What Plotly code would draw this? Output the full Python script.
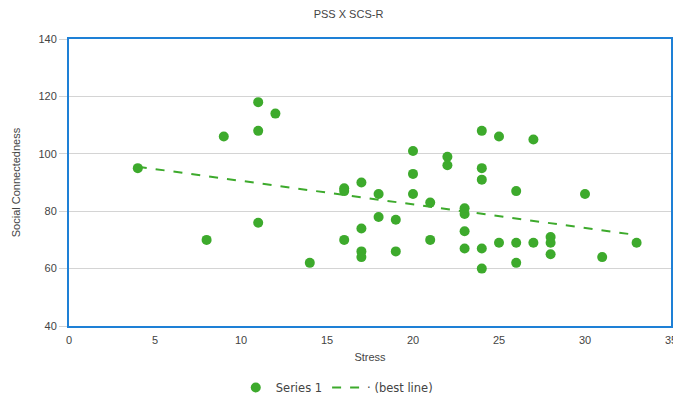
import plotly.graph_objects as go

stress = [4, 8, 9, 11, 11, 11, 12, 14, 16, 16, 16, 17, 17, 17, 17, 18, 18, 19, 19,
          20, 20, 20, 21, 21, 22, 22, 23, 23, 23, 23, 24, 24, 24, 24, 24, 25, 25,
          26, 26, 26, 27, 27, 28, 28, 28, 30, 31, 33]
social = [95, 70, 106, 118, 108, 76, 114, 62, 88, 87, 70, 90, 74, 66, 64, 86, 78, 77, 66,
          101, 93, 86, 83, 70, 99, 96, 81, 79, 73, 67, 108, 95, 91, 67, 60, 106, 69,
          87, 69, 62, 105, 69, 71, 69, 65, 86, 64, 69]

best_x = [4, 33]
best_y = [95.5, 71.7]

x_ticks = [0, 5, 10, 15, 20, 25, 30, 35]
y_ticks = [40, 60, 80, 100, 120, 140]

green = "#3DAA2C"
blue = "#1E80D6"

fig = go.Figure()
fig.add_trace(go.Scatter(x=stress, y=social, mode="markers", name="Series 1",
                         marker=dict(color=green, size=10)))
fig.add_trace(go.Scatter(x=best_x, y=best_y, mode="lines", name="· (best line)",
                         line=dict(color=green, width=2, dash="dash")))

fig.update_layout(
    width=681, height=401,
    margin=dict(l=61, r=18, t=31, b=83, autoexpand=False),
    paper_bgcolor="white", plot_bgcolor="white",
    font=dict(family="Liberation Sans, Arial, sans-serif", size=11, color="#444"),
    title=dict(text="PSS X SCS-R", x=0.5, xanchor="center", y=0.985, yanchor="middle",
               font=dict(size=11, color="#444")),
    showlegend=True,
    legend=dict(orientation="h", x=0.277, xanchor="left", y=-0.164, yanchor="top",
                font=dict(family="DejaVu Sans, sans-serif", size=11.5, color="#444"),
                itemwidth=30),
)
fig.update_xaxes(range=[0, 35], tickvals=x_ticks, showgrid=False, zeroline=False,
                 showline=True, mirror=True, linecolor=blue, linewidth=2,
                 automargin=False,
                 title=dict(text="Stress", standoff=8, font=dict(size=11)),
                 ticks="outside", ticklen=3, tickcolor="rgba(0,0,0,0)",
                 tickfont=dict(size=11))
fig.update_yaxes(range=[40, 140], tickvals=y_ticks, showgrid=True, gridcolor="#D4D4D4",
                 gridwidth=1, zeroline=False, automargin=False,
                 showline=True, mirror=True, linecolor=blue, linewidth=2,
                 ticks="outside", ticklen=8, tickcolor="#D4D4D4",
                 title=dict(text="Social Connectedness", standoff=16, font=dict(size=11)),
                 tickfont=dict(size=11))

fig.write_html("out.html")
